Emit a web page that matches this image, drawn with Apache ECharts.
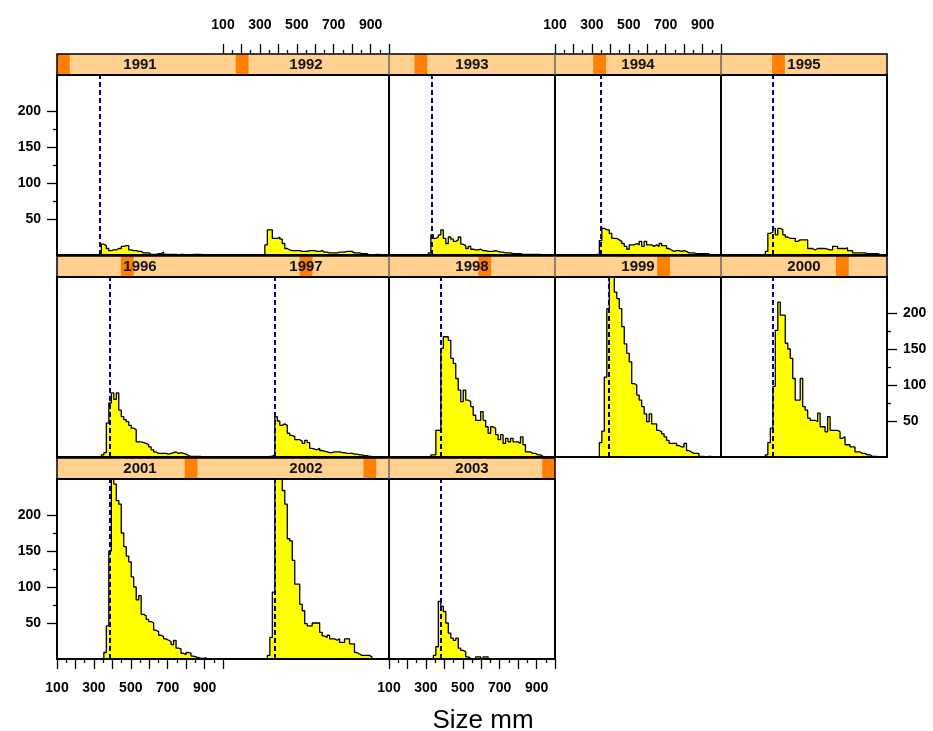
<!DOCTYPE html>
<html><head><meta charset="utf-8">
<script src="https://cdn.jsdelivr.net/npm/echarts@6/dist/echarts.min.js"></script>
<style>html,body{margin:0;padding:0;background:#fff}#c{width:933px;height:731px}</style>
</head><body><div id="c"></div>
<script>
// ---- data ----
const years = ['1991','1992','1993','1994','1995','1996','1997','1998','1999','2000','2001','2002','2003'];
const binStart = 300;   // mm, left edge of first bin
const binWidth = 13.5;  // mm
const counts1991 = [0,0,0,15,13,9,6,7,7,9,9,12,13,13,7,6,6,5,5,3,3,3,1,1,1,2,2,4,1,1,1,1,1,0,1,1,0,0,0,1,1,1,1,0,0,0,0,1,0,0,0,0];
const counts1992 = [0,1,14,35,35,23,23,25,22,16,9,7,6,6,6,6,5,5,5,6,6,6,5,5,6,4,4,3,3,3,3,4,4,4,5,5,5,3,3,3,2,2,2,0,0,0,1,1,0,0,0,0];
const counts1993 = [0,3,28,23,25,28,35,23,16,25,22,19,21,25,15,13,9,12,8,7,7,8,6,6,5,5,5,6,5,4,4,3,3,3,2,2,2,2,1,1,1,1,1,1,1,1,0,0,0,0,0,0];
const counts1994 = [0,1,1,20,37,35,35,30,23,23,21,19,16,12,8,14,14,16,14,19,12,19,14,14,12,14,12,16,13,13,9,7,5,6,6,5,6,5,3,3,3,2,2,2,2,2,2,0,0,0,0,0];
const counts1995 = [0,0,0,5,30,32,37,28,37,35,28,25,23,23,23,19,21,21,21,21,9,9,7,9,9,9,9,8,7,7,12,12,9,9,9,10,6,6,3,3,3,3,3,2,2,2,2,2,1,0,0,0];
const counts1996 = [0,0,0,3,6,47,75,89,80,89,65,56,52,49,44,40,38,21,21,20,19,17,14,10,7,5,5,5,5,4,5,6,7,5,6,5,4,2,1,1,1,1,1,0,0,0,0,0,0,0,0,0];
const counts1997 = [0,0,0,1,1,3,56,50,44,46,44,33,30,28,24,24,22,19,23,20,12,11,10,12,9,8,7,6,6,7,7,7,6,6,5,5,5,4,4,3,3,2,2,1,1,0,0,0,0,0,0,0];
const counts1998 = [0,0,3,3,37,37,151,167,167,162,137,130,109,93,77,93,79,77,70,58,51,51,63,51,42,33,42,40,31,24,31,19,26,21,26,21,21,19,28,17,7,7,5,5,3,3,1,0,0,0,0,0];
const counts1999 = [0,0,0,20,36,111,206,262,262,229,220,206,181,157,144,132,102,100,86,79,70,60,49,60,46,46,37,35,32,28,23,19,19,19,16,14,14,19,9,7,5,5,5,1,1,0,1,1,0,0,0,0];
const counts2000 = [0,0,0,3,20,40,98,176,215,197,197,158,150,137,109,79,79,109,70,65,54,51,51,49,61,42,42,35,56,37,37,37,35,26,28,17,17,14,14,7,7,5,5,3,3,1,1,1,0,0,0,0];
const counts2001 = [0,0,0,1,9,46,150,262,243,220,215,175,156,143,135,114,100,82,88,62,60,55,52,50,40,38,33,31,28,26,24,20,26,15,14,8,6,9,8,4,3,2,1,1,2,0,0,0,0,0,0,0];
const counts2002 = [0,0,0,5,30,93,262,262,262,234,215,167,164,137,104,104,76,67,49,46,46,50,50,50,37,32,30,33,28,28,26,28,23,23,28,28,21,21,9,7,5,5,5,5,3,0,0,0,0,0,0,0];
const counts2003 = [1,0,0,5,17,80,73,66,50,36,29,26,29,15,12,10,3,1,0,0,3,3,0,3,3,0,0,0,0,0,0,0,0,0,0,0,0,0,0,0,0,0,0,0,0,0,0,0,0,0,0,0];
const refLines = [333,null,331,348,380,387,382,380,390,380,384,378,380];
const xTickLabels = [100,300,500,700,900];
const yTickLabels = [50,100,150,200];
const yMinorTicks = [75,125,175];
const xRange = [100,1000];
const yRange = [0,250];

const allCounts = [counts1991,counts1992,counts1993,counts1994,counts1995,counts1996,counts1997,
  counts1998,counts1999,counts2000,counts2001,counts2002,counts2003];

// ---- layout ----
const left0 = 57, top0 = 75, colW = 166, panelH = 180, stripH = 21, rowStep = 202;
const FONT = 'Liberation Sans, Arial, Helvetica, sans-serif';

function stepData(counts){
  let first = counts.findIndex(c => c > 0);
  let last = counts.length - 1;
  while (last > 0 && counts[last] === 0) last--;
  const pts = [[binStart + first*binWidth, 0]];
  for (let k = first; k <= last; k++) pts.push([binStart + k*binWidth, counts[k]]);
  pts.push([binStart + (last+1)*binWidth, 0]);
  return pts;
}

const grid = [], xAxis = [], yAxis = [], series = [], title = [], graphic = [];
const extraY = [];
const n = years.length;
const tickStyle = {color: '#000', width: 1.3};
years.forEach((yr, i) => {
  const col = i % 5, row = Math.floor(i / 5);
  const L = left0 + col*colW, T = top0 + row*rowStep;
  grid.push({left: L, top: T, width: colW, height: panelH, show: false});
  const topAxis = (row === 0 && (col === 1 || col === 3));
  const bottomAxis = (row === 2 && (col === 0 || col === 2));
  const showX = topAxis || bottomAxis;
  const leftAxis = (col === 0 && (row === 0 || row === 2));
  const rightAxis = (col === 4 && row === 1);
  const showY = leftAxis || rightAxis;
  xAxis.push({type: 'value', gridIndex: i, min: xRange[0], max: xRange[1], interval: 100,
    position: topAxis ? 'top' : 'bottom', offset: topAxis ? stripH : 0,
    axisLine: {show: false, onZero: false}, splitLine: {show: false},
    axisTick: {show: showX, length: 10, lineStyle: tickStyle},
    minorTick: {show: showX, splitNumber: 2, length: 4, lineStyle: tickStyle},
    axisLabel: {show: showX, margin: 22, color: '#000', fontFamily: FONT,
      fontWeight: 'bold', fontSize: 14,
      formatter: v => xTickLabels.includes(v) ? String(v) : ''}
  });
  yAxis.push({type: 'value', gridIndex: i, min: yRange[0], max: yRange[1], interval: 50,
    position: rightAxis ? 'right' : 'left',
    axisLine: {show: false, onZero: false}, splitLine: {show: false},
    axisTick: {show: showY, length: 10, lineStyle: tickStyle, customValues: yTickLabels},
    axisLabel: {show: showY, margin: 16, color: '#000', fontFamily: FONT,
      fontWeight: 'bold', fontSize: 14, padding: [5, 0, 0, 0],
      customValues: yTickLabels, formatter: v => String(v)}
  });
  if (showY) {
    extraY.push({type: 'value', gridIndex: i, min: yRange[0], max: yRange[1],
      position: rightAxis ? 'right' : 'left',
      axisLine: {show: false, onZero: false}, splitLine: {show: false},
      axisTick: {show: true, length: 4, lineStyle: tickStyle, customValues: yMinorTicks},
      axisLabel: {show: false}});
  }
  const s = {type: 'line', xAxisIndex: i, yAxisIndex: i, step: 'end', symbol: 'none',
    data: stepData(allCounts[i]), clip: true, silent: true,
    lineStyle: {color: '#000', width: 1.3},
    areaStyle: {color: '#FFFF00', opacity: 1}};
  if (refLines[i] != null) {
    s.markLine = {silent: true, symbol: ['none','none'], animation: false,
      label: {show: false},
      lineStyle: {color: '#00008B', type: [5,3], width: 2},
      data: [{xAxis: refLines[i]}]};
  }
  series.push(s);
});
// strips
years.forEach((yr, i) => {
  const col = i % 5, row = Math.floor(i / 5);
  const L = left0 + col*colW, T = top0 + row*rowStep - stripH;
  const gi = n + i;
  grid.push({left: L, top: T, width: colW, height: stripH, show: true,
    backgroundColor: '#FFD08F', borderWidth: 0});
  xAxis.push({type: 'category', gridIndex: gi, data: years, show: false, boundaryGap: true});
  yAxis.push({type: 'value', gridIndex: gi, min: 0, max: 1, show: false});
  series.push({type: 'bar', xAxisIndex: gi, yAxisIndex: gi, silent: true,
    barWidth: '100%', barGap: '0%',
    itemStyle: {color: '#FF7F00'},
    data: years.map((_, j) => j === i ? 1 : '-')});
  title.push({text: yr, left: L + colW/2, top: T + 3, textAlign: 'center', padding: 0,
    textStyle: {fontSize: 15, fontWeight: 'bold', fontFamily: FONT, color: '#111'}});
});
extraY.forEach(a => yAxis.push(a));
title.push({text: 'Size mm', left: 483, top: 708, textAlign: 'center', padding: 0,
  textStyle: {fontSize: 26, fontWeight: 'normal', fontFamily: FONT, color: '#000'}});

// frames (panel borders and strip borders)
const rowCols = [5, 5, 3];
rowCols.forEach((c, r) => {
  const T = top0 + r*rowStep, W = c*colW;
  graphic.push({type: 'rect', silent: true, z: 100,
    shape: {x: left0, y: T - stripH, width: W, height: stripH},
    style: {fill: 'transparent', stroke: '#000', lineWidth: 1.5}});
  graphic.push({type: 'rect', silent: true, z: 100,
    shape: {x: left0, y: T, width: W, height: panelH},
    style: {fill: 'transparent', stroke: '#000', lineWidth: 2}});
  for (let k = 2; k < c; k++) {
    const x = left0 + k*colW;
    graphic.push({type: 'line', silent: true, z: 100,
      shape: {x1: x, y1: T - stripH, x2: x, y2: T},
      style: {stroke: '#666', lineWidth: 1.5}});
    graphic.push({type: 'line', silent: true, z: 100,
      shape: {x1: x, y1: T, x2: x, y2: T + panelH},
      style: {stroke: '#000', lineWidth: 2}});
  }
});

const chart = echarts.init(document.getElementById('c'), null, {renderer: 'canvas'});
chart.setOption({animation: false, backgroundColor: '#fff', title, grid, xAxis, yAxis, series, graphic});
</script></body></html>
